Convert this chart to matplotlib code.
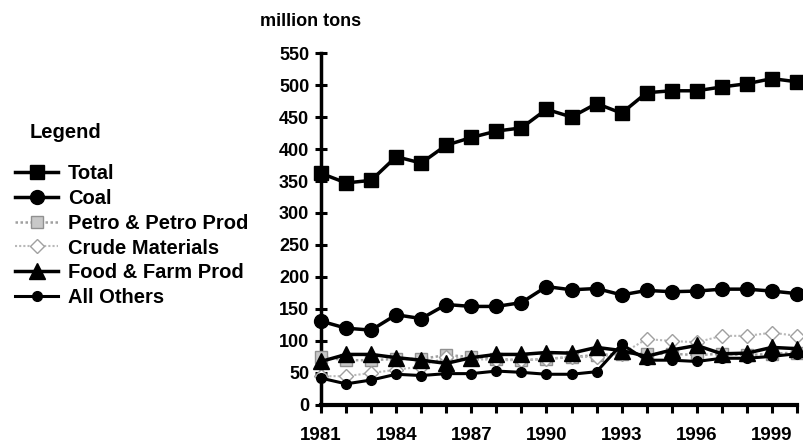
import matplotlib
matplotlib.use("Agg")
import matplotlib.pyplot as plt
import numpy as np

plt.rcParams['font.family'] = ['Liberation Sans', 'DejaVu Sans']
plt.rcParams['font.weight'] = 'bold'

years = list(range(1981, 2001))
total = [362, 347, 351, 388, 378, 406, 418, 428, 433, 462, 450, 471, 456, 488, 491, 491, 497, 502, 510, 505]
coal = [131, 120, 117, 141, 135, 157, 154, 154, 160, 185, 180, 182, 172, 179, 177, 178, 181, 181, 178, 174]
petro = [75, 70, 70, 72, 72, 78, 75, 72, 70, 72, 75, 78, 80, 80, 80, 78, 80, 78, 80, 82]
crude = [45, 45, 50, 55, 60, 75, 72, 70, 70, 72, 75, 75, 80, 103, 100, 98, 108, 108, 113, 108]
food = [68, 79, 79, 74, 70, 65, 74, 79, 79, 82, 81, 90, 85, 76, 86, 93, 80, 81, 90, 88]
others = [42, 33, 39, 48, 46, 49, 49, 53, 51, 48, 48, 52, 95, 70, 70, 68, 73, 73, 76, 80]
labels = ["Total", "Coal", "Petro & Petro Prod", "Crude Materials", "Food & Farm Prod", "All Others"]
yticks = list(range(0, 551, 50))
xticks = [1981, 1984, 1987, 1990, 1993, 1996, 1999]

fig = plt.figure(figsize=(8.04, 4.47), dpi=100)
ax = fig.add_axes([0.3993, 0.094, 0.5920, 0.7874])

ax.plot(years, total, color='black', lw=2.5, marker='s', ms=10, clip_on=False, label=labels[0], zorder=6)
ax.plot(years, coal, color='black', lw=2.5, marker='o', ms=10, clip_on=False, label=labels[1], zorder=6)
ax.plot(years, petro, color='#a0a0a0', lw=1.8, ls=(0, (1, 1)), marker='s', ms=9,
        mfc='#c8c8c8', mec='#909090', clip_on=False, label=labels[2], zorder=3)
ax.plot(years, crude, color='#b8b8b8', lw=1.5, ls=(0, (1, 1)), marker='D', ms=7,
        mfc='white', mec='#a0a0a0', clip_on=False, label=labels[3], zorder=4)
ax.plot(years, food, color='black', lw=2.5, marker='^', ms=12, clip_on=False, label=labels[4], zorder=5)
ax.plot(years, others, color='black', lw=2.2, marker='o', ms=7, clip_on=False, label=labels[5], zorder=5)

ax.set_xlim(1981, 2000)
ax.set_ylim(0, 550)
ax.set_yticks(yticks)
ax.set_xticks(xticks)
ax.set_xticks(years, minor=True)
for s in ['top', 'right']:
    ax.spines[s].set_visible(False)
ax.spines['left'].set_linewidth(2.5)
ax.spines['bottom'].set_linewidth(3)
ax.tick_params(axis='y', direction='inout', length=9, width=2.2, labelsize=13, pad=4)
ax.tick_params(axis='x', which='both', direction='out', length=6, width=2.2, labelsize=13.5, pad=10)
for t in ax.get_xticklabels() + ax.get_yticklabels():
    t.set_fontweight('bold')

fig.text(0.3234, 0.952, "million tons", fontsize=13, fontweight='bold', ha='left', va='center')
fig.text(30 / 804, 1 - 133 / 447, "Legend", fontsize=14.5, fontweight='bold', ha='left', va='center')

handles, hl = ax.get_legend_handles_labels()
leg = fig.legend(handles, hl, loc='upper left', bbox_to_anchor=(15 / 804, 1 - 164 / 447), frameon=False,
                 fontsize=14.5, handlelength=2.14, handletextpad=0.5, labelspacing=0.29,
                 borderpad=0, borderaxespad=0)
for t in leg.get_texts():
    t.set_fontweight('bold')

fig.savefig("out.png", dpi=100)
